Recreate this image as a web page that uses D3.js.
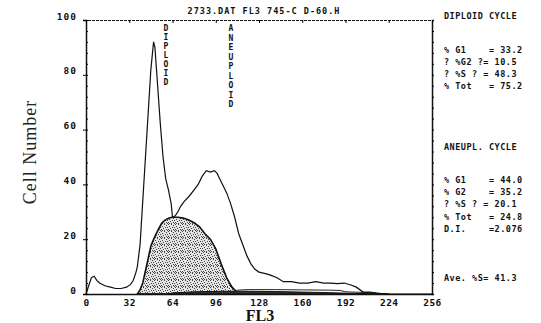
<!DOCTYPE html>
<html>
<head>
<meta charset="utf-8">
<script src="https://cdn.jsdelivr.net/npm/d3@7"></script>
<style>
  body { margin: 0; background: #fff; }
  .mono { font-family: "DejaVu Sans Mono", monospace; font-weight: bold; fill: #111; }
</style>
</head>
<body>
<div id="chart"></div>
<script>
// Histogram: FL3 channel vs cell count
const channels = [0, 2, 4, 6, 8, 10, 14, 18, 22, 26, 30, 33, 35, 37, 38, 40, 42, 44, 46, 48, 50, 51, 53, 55, 57, 59, 61, 63, 64, 66, 68, 70, 73, 76, 80, 83, 86, 89, 92, 95, 97, 99, 101, 104, 107, 110, 113, 116, 119, 122, 125, 128, 132, 136, 141, 146, 152, 158, 164, 170, 176, 181, 186, 191, 196, 200, 205, 210, 215, 220, 256];
const counts = [0, 3, 6, 6.5, 5, 4, 3, 2.5, 2, 2, 2.5, 3.5, 5, 8, 10, 18, 34, 50, 66, 82, 92, 90, 76, 62, 50, 42, 38, 33, 28, 28.5, 30, 32, 34, 35.5, 38, 40, 43, 45, 44.5, 45, 44, 42, 40, 37, 33, 28, 22, 18, 14, 11, 9, 8, 7.5, 7, 6, 4.5, 4.5, 4, 4, 4.5, 4, 4, 3.8, 4, 3.3, 2.5, 0.7, 0.7, 0.3, 0, 0];

// Aneuploid G1 fit (shaded)
const fitChannels = [38, 40, 42, 44, 46, 48, 50, 52, 54, 56, 58, 60, 62, 64, 68, 72, 76, 80, 84, 88, 92, 96, 100, 104, 108, 112, 115];
const fitCounts = [0, 1.5, 4, 8.5, 13, 17.5, 20, 22, 24, 25.8, 26.8, 27.4, 27.8, 28, 28, 27.7, 27, 26, 24.5, 22, 20, 16.5, 11, 6, 2.5, 0.5, 0];

// S-phase strips along the baseline
const sChannels = [60, 64, 80, 100, 120, 140, 160, 180, 200, 224];
const sCounts = [0, 0.4, 0.8, 1, 1, 0.9, 0.7, 0.5, 0.2, 0];
const s2Channels = [108, 112, 120, 140, 160, 180, 188, 192, 210, 224];
const s2Counts = [0, 1.4, 1.6, 1.6, 1.5, 1.4, 1.3, 0.8, 0.5, 0];

const xTicks = [0, 32, 64, 96, 128, 160, 192, 224, 256];
const yTicks = [0, 20, 40, 60, 80, 100];

const title = "2733.DAT FL3 745-C D-60.H";
const diploidLines = ["DIPLOID CYCLE", "", "% G1    = 33.2", "? %G2 ?= 10.5", "? %S ? = 48.3", "% Tot   = 75.2"];
const aneuLines = ["ANEUPL. CYCLE", "", "% G1    = 44.0", "% G2    = 35.2", "? %S ? = 20.1", "% Tot   = 24.8", "D.I.    =2.076", "", "", "", "Ave. %S= 41.3"];

const width = 541, height = 323;
const svg = d3.select('#chart').append('svg')
    .attr('width', width)
    .attr('height', height);

const x = d3.scaleLinear().domain([0, 256]).range([86, 432]);
const y = d3.scaleLinear().domain([0, 100]).range([294, 20]);

// stipple pattern
const defs = svg.append('defs');
const pat = defs.append('pattern')
    .attr('id', 'stip')
    .attr('width', 7).attr('height', 7)
    .attr('patternUnits', 'userSpaceOnUse');
pat.append('rect').attr('width', 7).attr('height', 7).attr('fill', '#e4e4e4');
[[0, 0], [3, 0], [5, 1], [1, 2], [4, 3], [6, 3], [2, 4], [0, 5], [5, 5], [3, 6], [1, 6], [6, 6]].forEach(p => {
    pat.append('rect').attr('x', p[0]).attr('y', p[1]).attr('width', 1).attr('height', 1).attr('fill', '#444');
});

const line = d3.line().x(d => x(d[0])).y(d => y(d[1]));
const area = d3.area().x(d => x(d[0])).y0(y(0)).y1(d => y(d[1]));

const fitData = fitChannels.map((c, i) => [c, fitCounts[i]]);
svg.append('path')
    .datum(fitData)
    .attr('fill', 'url(#stip)')
    .attr('stroke', '#111')
    .attr('stroke-width', 1.6)
    .attr('d', area);

const sData = sChannels.map((c, i) => [c, sCounts[i]]);
svg.append('path')
    .datum(sData)
    .attr('fill', '#333')
    .attr('stroke', '#111')
    .attr('stroke-width', 1)
    .attr('d', area);

const s2Data = s2Channels.map((c, i) => [c, s2Counts[i]]);
svg.append('path')
    .datum(s2Data)
    .attr('fill', 'none')
    .attr('stroke', '#222')
    .attr('stroke-width', 1)
    .attr('d', line);

const histData = channels.map((c, i) => [c, counts[i]]);
svg.append('path')
    .datum(histData)
    .attr('fill', 'none')
    .attr('stroke', '#111')
    .attr('stroke-width', 1.2)
    .attr('d', line);

// Axes
const xAxis = d3.axisBottom(x).tickValues(xTicks).tickSize(0).tickPadding(5);
const gx = svg.append('g')
    .attr('transform', `translate(0,${y(0)})`)
    .call(xAxis);
gx.select('.domain').attr('stroke', '#111').attr('stroke-width', 1.5);
gx.selectAll('text').attr('class', 'mono').attr('font-size', 9.5).attr('letter-spacing', 0.5);

const yAxis = d3.axisLeft(y).tickValues(yTicks).tickSize(3).tickPadding(6);
const gy = svg.append('g')
    .attr('transform', `translate(${x(0)},0)`)
    .call(yAxis);
gy.select('.domain').attr('stroke', '#111').attr('stroke-width', 1.5);
gy.selectAll('text').attr('class', 'mono').attr('font-size', 9.5).attr('letter-spacing', 1).attr('dy', '-0.1em');

// minor ticks on left / right / top
const minorY = d3.range(0, 101, 4);
const gr = svg.append('g').attr('transform', `translate(${x(256)},0)`)
    .call(d3.axisRight(y).tickValues(minorY).tickSize(2).tickFormat(''));
gr.select('.domain').attr('stroke', '#111').attr('stroke-width', 1.5);
svg.append('g').attr('transform', `translate(${x(0)},0)`)
    .call(d3.axisRight(y).tickValues(minorY).tickSize(2).tickFormat(''))
    .select('.domain').remove();
const gt = svg.append('g').attr('transform', `translate(0,${y(100)})`)
    .call(d3.axisTop(x).tickValues(xTicks).tickSize(-3).tickFormat(''));
gt.select('.domain').attr('stroke', '#111').attr('stroke-width', 1).attr('stroke-dasharray', '3,1');

// title
svg.append('text').attr('class', 'mono')
    .attr('x', 264).attr('y', 14)
    .attr('text-anchor', 'middle')
    .attr('font-size', 8.5)
    .attr('letter-spacing', 1)
    .text(title);

// vertical labels
function vLabel(str, cx, top, step) {
    str.split('').forEach((ch, i) => {
        svg.append('text').attr('class', 'mono')
            .attr('x', cx).attr('y', top + i * step)
            .attr('text-anchor', 'middle')
            .attr('font-size', 8)
            .text(ch);
    });
}
vLabel('DIPLOID', 166, 31, 9);
vLabel('ANEUPLOID', 231, 31, 9.5);

// right panel
diploidLines.forEach((t, i) => {
    svg.append('text').attr('class', 'mono')
        .attr('x', 444).attr('y', 19 + (i === 0 ? 0 : 10 + i * 12))
        .attr('font-size', 8.5).attr('letter-spacing', 0.5)
        .style('white-space', 'pre')
        .text(t);
});
aneuLines.forEach((t, i) => {
    svg.append('text').attr('class', 'mono')
        .attr('x', 444).attr('y', 150 + (i === 0 ? 0 : 8 + i * 12.3))
        .attr('font-size', 8.5).attr('letter-spacing', 0.5)
        .style('white-space', 'pre')
        .text(t);
});

// axis titles
svg.append('text')
    .attr('transform', `translate(36,152) rotate(-90)`)
    .attr('text-anchor', 'middle')
    .attr('font-family', '"Liberation Serif", serif')
    .attr('font-size', 18)
    .attr('letter-spacing', 1)
    .attr('fill', '#222')
    .text('Cell Number');

svg.append('text')
    .attr('x', 260).attr('y', 321)
    .attr('text-anchor', 'middle')
    .attr('font-family', '"Liberation Serif", serif')
    .attr('font-weight', 'bold')
    .attr('font-size', 16)
    .attr('fill', '#111')
    .text('FL3');
</script>
</body>
</html>
